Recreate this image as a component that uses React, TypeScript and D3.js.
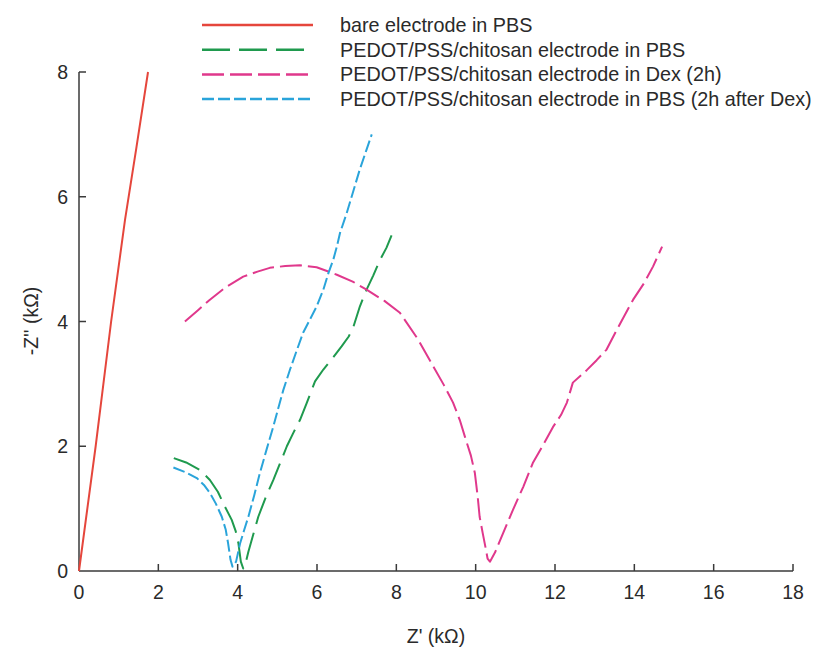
import React, { useRef, useEffect } from 'react'
import * as d3 from 'd3'

const W = 815
const H = 653

// Z' (kΩ), -Z'' (kΩ)
const bareX = [0, 0.42, 0.81, 1.16, 1.45, 1.74]
const bareY = [0, 2.0, 4.0, 5.63, 6.8, 8.0]

const pbsX = [2.39, 2.7, 3.05, 3.3, 3.5, 3.68, 3.85, 3.95, 4.02, 4.08, 4.14, 4.21, 4.27, 4.4, 4.52, 4.7, 4.9, 5.07, 5.24, 5.4, 5.57, 5.74, 5.95, 6.16, 6.4, 6.62, 6.8, 6.92, 7.08, 7.25, 7.42, 7.59, 7.75, 7.88]
const pbsY = [1.81, 1.74, 1.62, 1.46, 1.27, 1.03, 0.82, 0.64, 0.44, 0.15, 0.04, 0.15, 0.31, 0.6, 0.87, 1.17, 1.46, 1.73, 2.0, 2.21, 2.42, 2.69, 3.04, 3.23, 3.42, 3.6, 3.76, 3.92, 4.24, 4.51, 4.74, 4.99, 5.18, 5.38]

const dexX = [2.67, 3.0, 3.3, 3.7, 4.14, 4.5, 4.81, 5.2, 5.57, 5.99, 6.5, 6.9, 7.25, 7.7, 8.09, 8.55, 8.93, 9.2, 9.43, 9.6, 9.73, 9.88, 9.98, 10.05, 10.1, 10.18, 10.26, 10.3, 10.36, 10.49, 10.7, 10.94, 11.2, 11.44, 11.7, 11.95, 12.15, 12.3, 12.45, 12.8, 13.05, 13.3, 13.56, 13.97, 14.25, 14.47, 14.7]
const dexY = [4.0, 4.18, 4.35, 4.55, 4.72, 4.8, 4.86, 4.89, 4.9, 4.87, 4.75, 4.64, 4.51, 4.33, 4.14, 3.71, 3.28, 2.98, 2.7, 2.42, 2.15, 1.85, 1.57, 1.2, 0.87, 0.6, 0.34, 0.2, 0.15, 0.3, 0.62, 0.98, 1.35, 1.73, 2.02, 2.31, 2.5, 2.7, 3.02, 3.22, 3.38, 3.55, 3.87, 4.35, 4.62, 4.88, 5.2]

const afterX = [2.38, 2.7, 2.97, 3.15, 3.3, 3.45, 3.6, 3.7, 3.76, 3.82, 3.87, 3.96, 4.06, 4.16, 4.27, 4.42, 4.56, 4.73, 4.9, 5.02, 5.15, 5.32, 5.48, 5.65, 5.82, 5.99, 6.16, 6.29, 6.41, 6.5, 6.58, 6.75, 6.92, 7.08, 7.23, 7.38]
const afterY = [1.66, 1.58, 1.49, 1.38, 1.25, 1.08, 0.87, 0.66, 0.44, 0.18, 0.07, 0.15, 0.44, 0.65, 0.87, 1.22, 1.57, 1.95, 2.32, 2.6, 2.9, 3.23, 3.52, 3.82, 4.03, 4.24, 4.51, 4.78, 4.99, 5.2, 5.42, 5.74, 6.1, 6.44, 6.72, 7.0]

const seriesNames = [
  'bare electrode in PBS',
  'PEDOT/PSS/chitosan electrode in PBS',
  'PEDOT/PSS/chitosan electrode in Dex (2h)',
  'PEDOT/PSS/chitosan electrode in PBS (2h after Dex)',
]
const seriesColors = ['#e5463c', '#1f9a4e', '#e0388c', '#2aa4da']
const seriesDash = ['none', '28,9', '22,6', '12,4']

const xTicks = [0, 2, 4, 6, 8, 10, 12, 14, 16, 18]
const yTicks = [0, 2, 4, 6, 8]

const font = 'Arial, "Liberation Sans", Helvetica, sans-serif'

const App: React.FC = () => {
  const svgRef = useRef<SVGSVGElement>(null)

  useEffect(() => {
    if (!svgRef.current) return
    const svg = d3.select(svgRef.current)
    svg.selectAll('*').remove()

    const x = d3.scaleLinear().domain([0, 18]).range([79, 793])
    const y = d3.scaleLinear().domain([0, 8]).range([571, 72])
    const axisColor = '#3a3a3a'
    const textColor = '#2a2a2a'

    // axes
    svg.append('line')
      .attr('x1', x(0)).attr('x2', x(18)).attr('y1', y(0)).attr('y2', y(0))
      .attr('stroke', axisColor).attr('stroke-width', 1.5)
    svg.append('line')
      .attr('x1', x(0)).attr('x2', x(0)).attr('y1', y(0)).attr('y2', y(8))
      .attr('stroke', axisColor).attr('stroke-width', 1.5)

    xTicks.forEach((t) => {
      if (t > 0) {
        svg.append('line')
          .attr('x1', x(t)).attr('x2', x(t)).attr('y1', y(0)).attr('y2', y(0) - 7)
          .attr('stroke', axisColor).attr('stroke-width', 1.5)
      }
      svg.append('text')
        .attr('x', x(t)).attr('y', y(0) + 28)
        .attr('text-anchor', 'middle')
        .attr('font-family', font).attr('font-size', 19.5).attr('fill', textColor)
        .text(t)
    })
    yTicks.forEach((t) => {
      if (t > 0) {
        svg.append('line')
          .attr('x1', x(0)).attr('x2', x(0) + 7).attr('y1', y(t)).attr('y2', y(t))
          .attr('stroke', axisColor).attr('stroke-width', 1.5)
      }
      svg.append('text')
        .attr('x', 68).attr('y', y(t) + 7)
        .attr('text-anchor', 'end')
        .attr('font-family', font).attr('font-size', 19.5).attr('fill', textColor)
        .text(t)
    })

    svg.append('text')
      .attr('x', 436).attr('y', 643)
      .attr('text-anchor', 'middle')
      .attr('font-family', font).attr('font-size', 19.5).attr('fill', textColor)
      .text("Z' (kΩ)")
    svg.append('text')
      .attr('transform', `translate(38,321) rotate(-90)`)
      .attr('text-anchor', 'middle')
      .attr('font-family', font).attr('font-size', 19.5).attr('fill', textColor)
      .text("-Z'' (kΩ)")

    const line = d3.line<[number, number]>()
      .x((d) => x(d[0]))
      .y((d) => y(d[1]))

    const data: [number, number][][] = [
      d3.zip(bareX, bareY) as [number, number][],
      d3.zip(pbsX, pbsY) as [number, number][],
      d3.zip(dexX, dexY) as [number, number][],
      d3.zip(afterX, afterY) as [number, number][],
    ]

    data.forEach((pts, i) => {
      svg.append('path')
        .attr('d', line(pts) || '')
        .attr('fill', 'none')
        .attr('stroke', seriesColors[i])
        .attr('stroke-width', 2)
        .attr('stroke-dasharray', seriesDash[i])
        .attr('stroke-linejoin', 'round')
    })

    // legend
    seriesNames.forEach((name, i) => {
      const ly = 25 + i * 24.7
      svg.append('line')
        .attr('x1', 202).attr('x2', 313).attr('y1', ly).attr('y2', ly)
        .attr('stroke', seriesColors[i])
        .attr('stroke-width', 2.5)
        .attr('stroke-dasharray', seriesDash[i])
      svg.append('text')
        .attr('x', 340).attr('y', ly + 7)
        .attr('font-family', font).attr('font-size', 19.8).attr('fill', textColor)
        .text(name)
    })
  }, [])

  return (
    <svg
      ref={svgRef}
      width={W}
      height={H}
      style={{ position: 'absolute', left: 0, top: 0, background: '#fff' }}
    />
  )
}

export default App
